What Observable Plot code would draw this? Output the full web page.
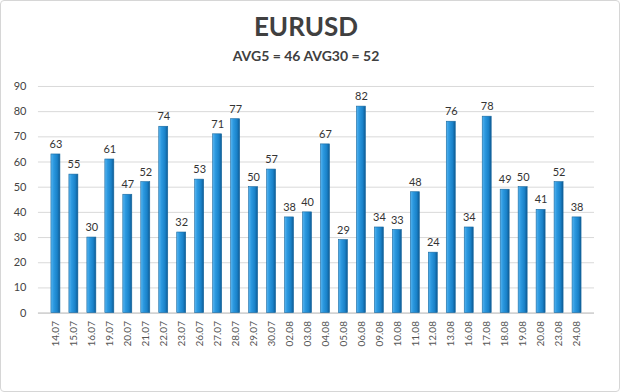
<!DOCTYPE html>
<html><head><meta charset="utf-8">
<script src="https://cdn.jsdelivr.net/npm/d3@7"></script>
<script src="https://cdn.jsdelivr.net/npm/@observablehq/plot@0.6"></script>
<style>
body{margin:0;background:#fff;font-family:Lato,"Open Sans",sans-serif;}
#frame{position:relative;width:620px;height:392px;box-sizing:border-box;border:1px solid #d6d6d6;border-radius:4px;overflow:hidden;background:#fff;}
#title{position:absolute;left:0;top:9px;width:610px;text-align:center;font-size:26px;font-weight:bold;color:#404040;}
#sub{position:absolute;left:0;top:46px;width:610px;text-align:center;font-size:14px;font-weight:bold;color:#404040;}
#chart{position:absolute;left:-1px;top:69px;}
</style>
</head><body>
<div id="frame">
  <div id="title">EURUSD</div>
  <div id="sub">AVG5 = 46 AVG30 = 52</div>
  <div id="chart"></div>
</div>
<script>
const dates = ["14.07","15.07","16.07","19.07","20.07","21.07","22.07","23.07","26.07","27.07","28.07","29.07","30.07","02.08","03.08","04.08","05.08","06.08","09.08","10.08","11.08","12.08","13.08","16.08","17.08","18.08","19.08","20.08","23.08","24.08"];
const values = [63,55,30,61,47,52,74,32,53,71,77,50,57,38,40,67,29,82,34,33,48,24,76,34,78,49,50,41,52,38];
const yTicks = [0,10,20,30,40,50,60,70,80,90];

const data = dates.map((d, i) => ({date: d, value: values[i]}));

const chart = Plot.plot({
  width: 620,
  height: 320,
  marginTop: 16,
  marginBottom: 77,
  marginLeft: 38,
  marginRight: 25,
  style: {fontFamily: "Lato, 'Open Sans', sans-serif", background: "transparent"},
  x: {type: "band", domain: dates, padding: 0.5, label: null},
  y: {domain: [0, 90], ticks: yTicks, label: null},
  marks: [
    Plot.gridY(yTicks, {stroke: "#d9d9d9", strokeOpacity: 1}),
    Plot.ruleY([0], {stroke: "#c4c4c4"}),
    Plot.barY(data, {x: "date", y: "value", fill: "url(#barGrad)", stroke: "#16679e", strokeWidth: 0.6}),
    Plot.text(data, {x: "date", y: "value", text: d => String(d.value), dy: -10, fontSize: 11, fill: "#333"}),
    Plot.axisY({ticks: yTicks, tickSize: 0, tickPadding: 12, fontSize: 11, color: "#444", label: null}),
    Plot.axisX({tickRotate: -90, tickSize: 0, tickPadding: 8, fontSize: 10, color: "#555", label: null})
  ]
});

const ns = "http://www.w3.org/2000/svg";
const defs = document.createElementNS(ns, "defs");
const grad = document.createElementNS(ns, "linearGradient");
grad.setAttribute("id", "barGrad");
grad.setAttribute("x1", "0"); grad.setAttribute("x2", "1");
grad.setAttribute("y1", "0"); grad.setAttribute("y2", "0");
[["0", "#5ab6f0"], ["0.3", "#2c99e0"], ["0.7", "#1a82c9"], ["1", "#0e5b94"]].forEach(([o, c]) => {
  const s = document.createElementNS(ns, "stop");
  s.setAttribute("offset", o); s.setAttribute("stop-color", c);
  grad.appendChild(s);
});
defs.appendChild(grad);
chart.insertBefore(defs, chart.firstChild);

document.getElementById("chart").appendChild(chart);
</script>
</body></html>
